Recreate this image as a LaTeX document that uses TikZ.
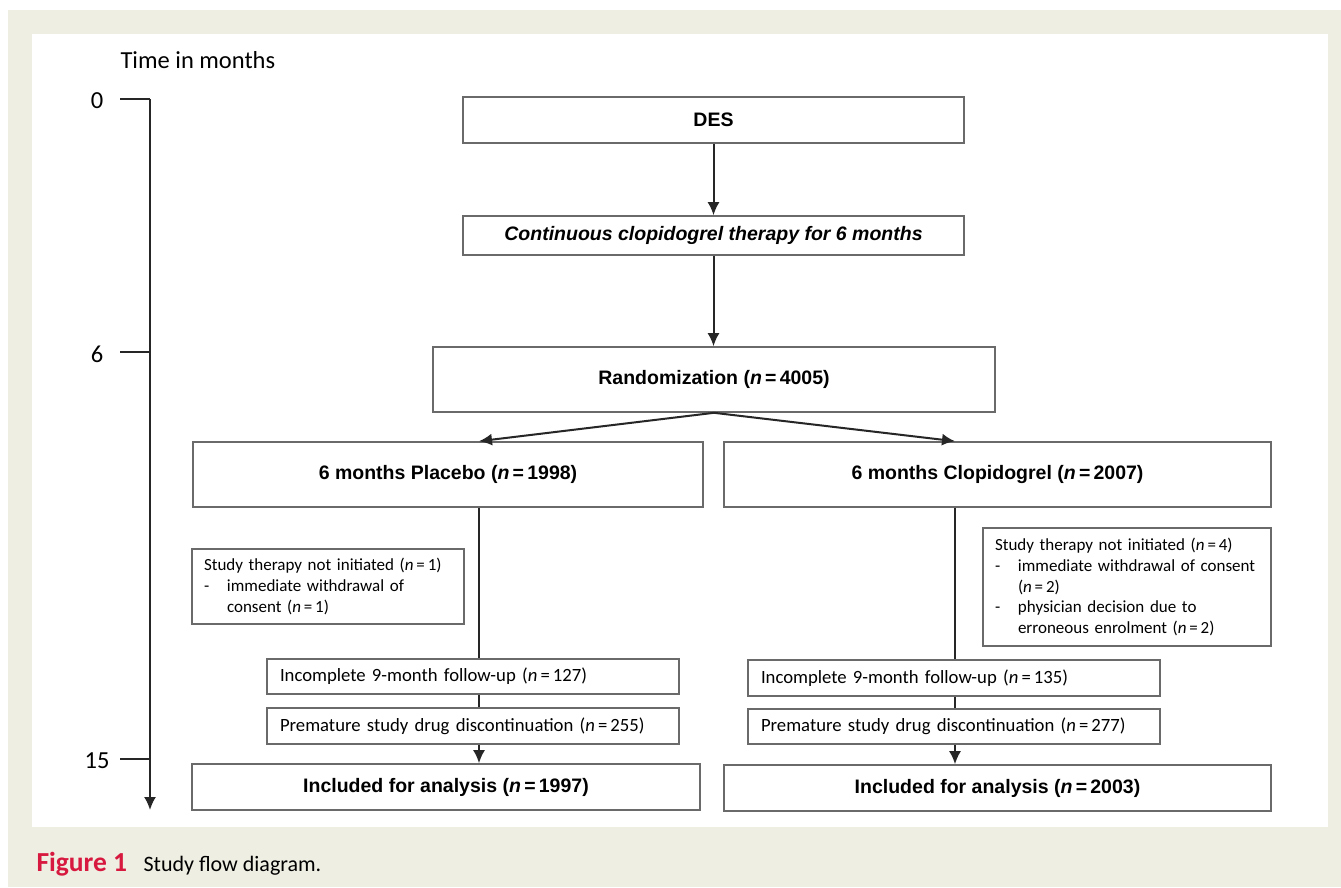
\documentclass[tikz,border=0pt]{standalone}
\usepackage{fontspec}
\setmainfont{Carlito}
\newfontfamily\arialfont{Liberation Sans}
\usetikzlibrary{arrows.meta}

\definecolor{pagebeige}{HTML}{EFEEE3}
\definecolor{figred}{HTML}{D7193F}
\definecolor{boxgray}{HTML}{6A6A6A}

\newcommand{\nval}[1]{(\textit{n}\,=\,#1)}
\newcommand{\dashitem}{\makebox[23pt][l]{-}}
\newcommand{\hangitem}{\hspace*{23pt}}

\tikzset{
  bigbox/.style={draw=boxgray, line width=1.6pt, fill=white, inner sep=0pt,
                 font=\arialfont\bfseries\fontsize{19.5}{22}\selectfont},
  smallbox/.style={draw=boxgray, line width=1.6pt, fill=white, inner ysep=0pt,
                   inner xsep=12pt, align=left,
                   font=\fontsize{17}{20.6}\selectfont},
  lossbox/.style={smallbox, inner xsep=13pt, text width=386pt,
                  font=\fontsize{18.7}{22}\selectfont},
  link/.style={line width=2pt, draw=black!85},
  arr/.style={link, -{Latex[length=13pt,width=12pt]}},
  axislabel/.style={font=\fontsize{24.5}{28}\selectfont},
}

\begin{document}
\begin{tikzpicture}[x=1pt, y=-1pt]
    \useasboundingbox (0,0) rectangle (1341,887);
    \fill[pagebeige] (8,10) rectangle (1341,887);
    \fill[white] (32,34) rectangle (1328,827);

    % time axis
    \node[axislabel, anchor=base west] (tlabel) at (117,68) {Time in months};
    \coordinate (axtop) at (150,99);
    \coordinate (axbot) at (150,810);
    \draw[arr] (axtop) -- (axbot);
    \foreach \lab / \yy in {0/99, 6/352, 15/759}
        {
            \coordinate (tk\lab) at (150,\yy);
            \draw[link] (tk\lab) -- ++(-30,0);
            \node[axislabel] (num\lab) at (97,\yy+2) {\lab};
        }

    % main column
    \node[bigbox, minimum width=501pt, minimum height=46pt] (des) at (713.5,120) {DES};
    \node[bigbox, minimum width=501pt, minimum height=39pt] (cont) at (713.5,235.5)
        {\itshape Continuous clopidogrel therapy for 6 months};
    \node[bigbox, minimum width=562pt, minimum height=65pt] (rand) at (714,379.5)
        {Randomization \nval{4005}};

    % two arms
    \node[bigbox, minimum width=510pt, minimum height=65pt] (plac) at (448,474.5)
        {6 months Placebo \nval{1998}};
    \node[bigbox, minimum width=547pt, minimum height=65pt] (clop) at (997.5,474.5)
        {6 months Clopidogrel \nval{2007}};

    \node[smallbox, text width=248pt, minimum height=75pt] (notel) at (328,586.5)
        {Study therapy not initiated (\textit{n}\,=\,1)\\
         \dashitem immediate withdrawal of\\
         \hangitem consent (\textit{n}\,=\,1)};
    \node[smallbox, text width=264pt, minimum height=118pt] (noter) at (1127,587)
        {Study therapy not initiated (\textit{n}\,=\,4)\\
         \dashitem immediate withdrawal of consent\\
         \hangitem (\textit{n}\,=\,2)\\
         \dashitem physician decision due to\\
         \hangitem erroneous enrolment (\textit{n}\,=\,2)};

    \node[lossbox, minimum height=35pt] (incl) at (473,676.5)
        {Incomplete 9-month follow-up \nval{127}};
    \node[lossbox, minimum height=36pt] (prel) at (473,726)
        {Premature study drug discontinuation \nval{255}};
    \node[lossbox, minimum height=36pt] (incr) at (954,678)
        {Incomplete 9-month follow-up \nval{135}};
    \node[lossbox, minimum height=35pt] (prer) at (954,726.5)
        {Premature study drug discontinuation \nval{277}};

    \node[bigbox, minimum width=508pt, minimum height=46pt] (anal) at (446,787)
        {Included for analysis \nval{1997}};
    \node[bigbox, minimum width=547pt, minimum height=46pt] (anar) at (997.5,788)
        {Included for analysis \nval{2003}};

    % connectors
    \coordinate (lx) at (479,0);
    \coordinate (rx) at (955,0);
    \draw[arr] (des) -- (cont);
    \draw[arr] (cont.south) -- (cont.south |- rand.north);
    \draw[arr] (rand.south) -- (plac.north -| lx);
    \draw[arr] (rand.south) -- (clop.north -| rx);

    \draw[link] (plac.south -| lx) -- (incl.north -| lx);
    \draw[link] (incl.south -| lx) -- (prel.north -| lx);
    \draw[arr] (prel.south -| lx) -- (anal.north -| lx);

    \draw[link] (clop.south -| rx) -- (incr.north -| rx);
    \draw[link] (incr.south -| rx) -- (prer.north -| rx);
    \draw[arr] (prer.south -| rx) -- (anar.north -| rx);

    % caption
    \node[anchor=base west, text=figred, font=\bfseries\fontsize{27.5}{30}\selectfont] (figno) at (33,871) {Figure 1};
    \node[anchor=base west, font=\fontsize{22}{26}\selectfont] (figtext) at (140,871) {Study flow diagram.};
\end{tikzpicture}
\end{document}
